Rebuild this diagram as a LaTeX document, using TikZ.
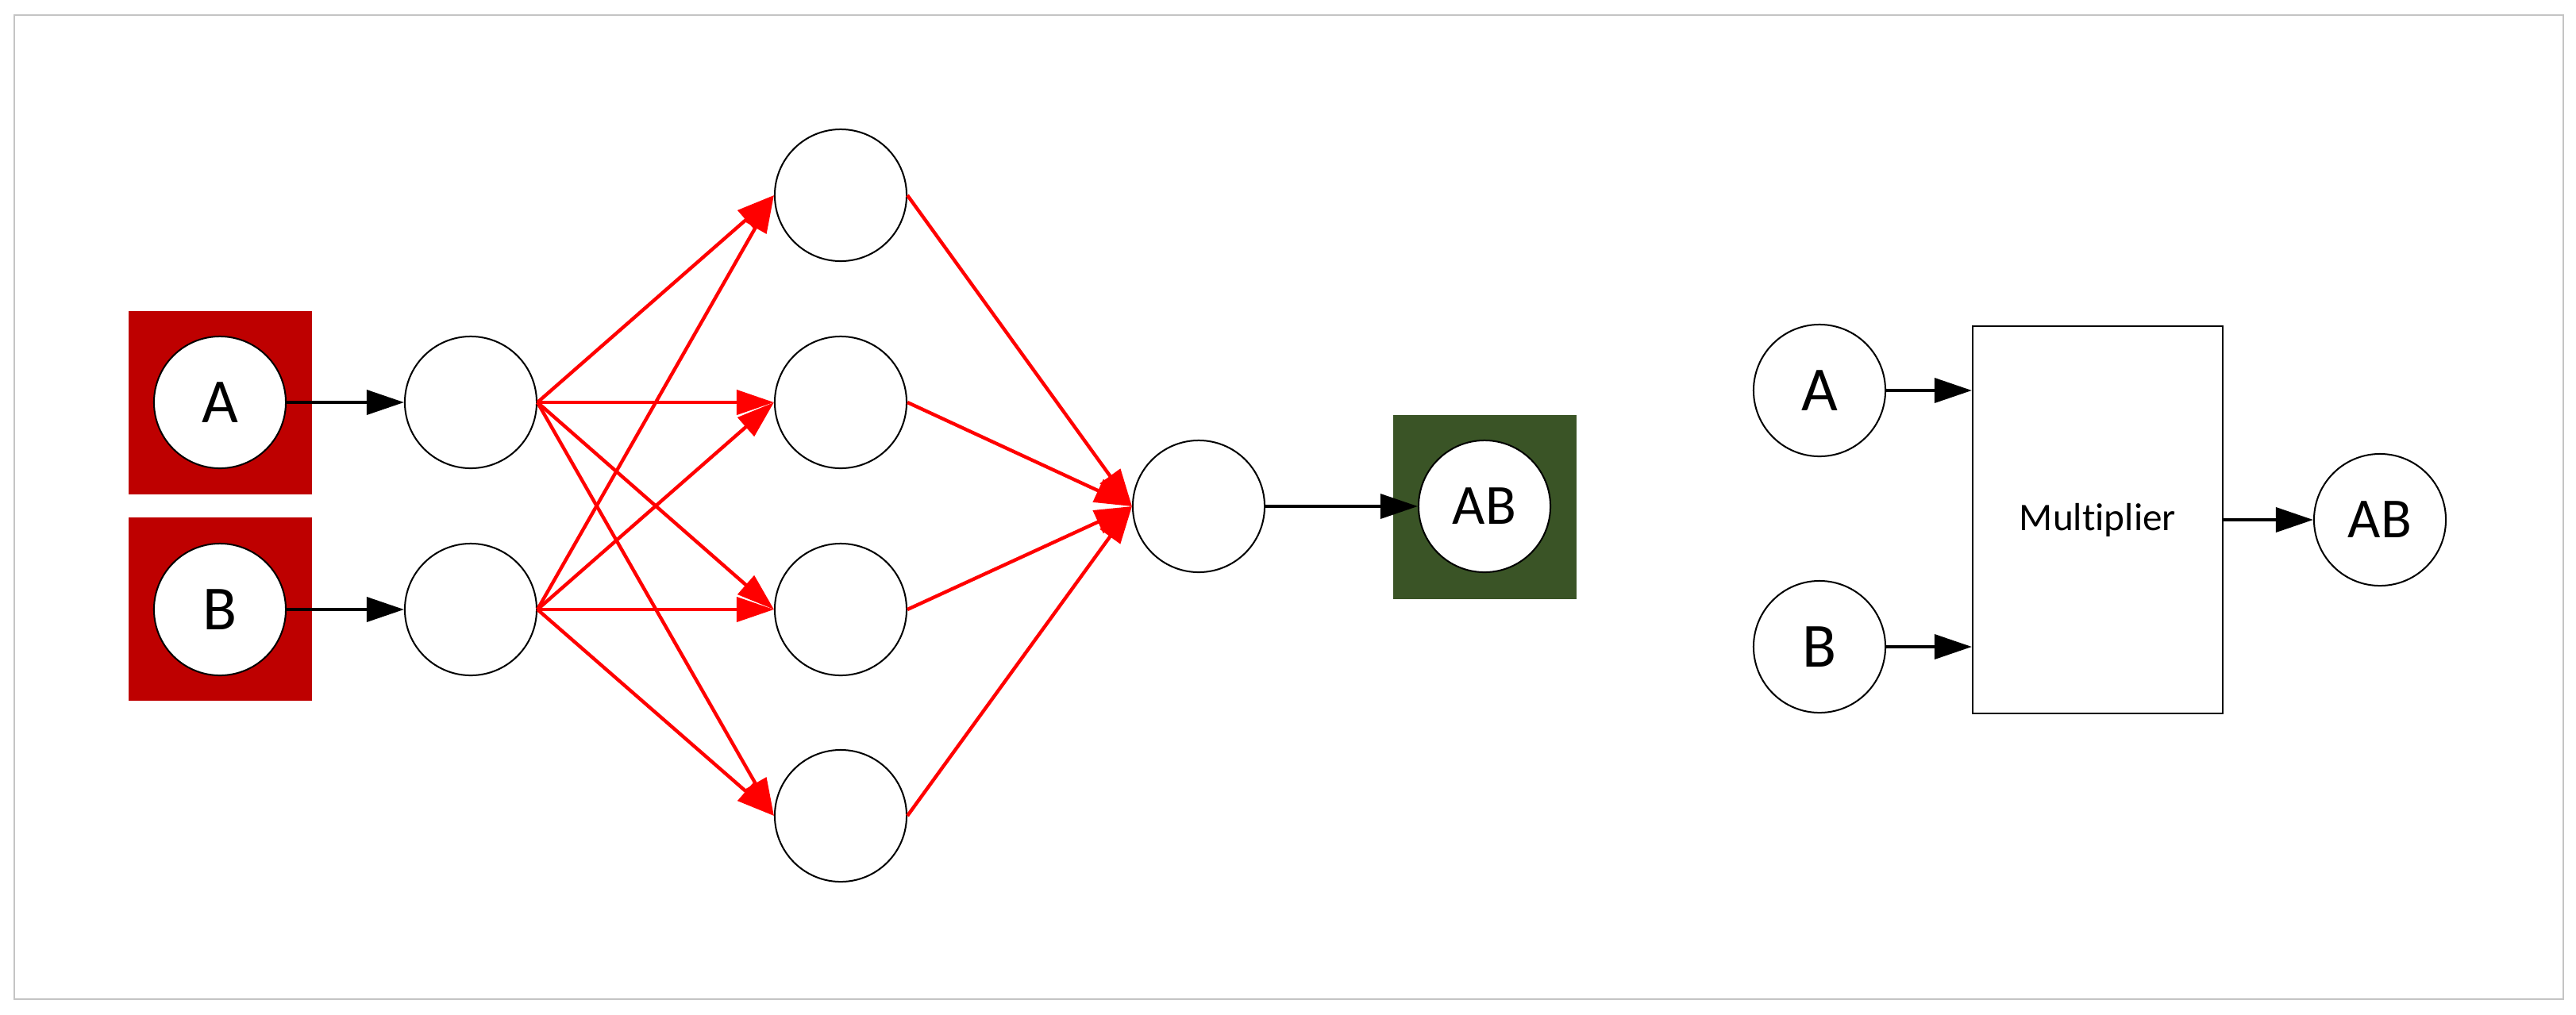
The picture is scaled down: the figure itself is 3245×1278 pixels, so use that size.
\documentclass[tikz,border=0pt]{standalone}
\usepackage{fontspec}
\setmainfont[Ligatures=NoCommon]{Carlito}
\usetikzlibrary{arrows.meta}
\definecolor{sqred}{RGB}{190,0,0}
\definecolor{sqgreen}{RGB}{58,84,38}
\definecolor{framegray}{RGB}{196,196,196}
\begin{document}
\begin{tikzpicture}[x=0.01cm,y=-0.01cm,
  neuron/.style={circle,draw=black,line width=0.57pt,fill=white,minimum size=1.66cm,inner sep=0pt,font=\fontsize{22.5}{27}\selectfont},
  outneuron/.style={neuron,font=\fontsize{20.3}{24}\selectfont},
  sqbox/.style={rectangle,draw=none,minimum size=2.31cm,inner sep=0pt},
  blk/.style={line width=1.14pt,-{Triangle[length=13.4pt,width=8.8pt]}},
  redarr/.style={draw=red,line width=1.25pt,-{Triangle[length=13.4pt,width=8.8pt]}},
  mulbox/.style={rectangle,draw=black,line width=0.57pt,minimum width=3.15cm,minimum height=4.88cm,inner sep=0pt,font=\fontsize{14}{17}\selectfont}]
\useasboundingbox (0,0) rectangle (3245,1278);
\node[draw=framegray,line width=0.6pt,rectangle,minimum width=32.09cm,minimum height=12.39cm,inner sep=0pt,anchor=north west] (frame) at (17,18) {};
% left network
\node[sqbox,fill=sqred] (sqA) at (277.5,507.5) {};
\node[sqbox,fill=sqred] (sqB) at (277.5,767.5) {};
\node[sqbox,fill=sqgreen] (sqAB) at (1870.5,639) {};
\node[neuron] (inA) at (277,507) {A};
\node[neuron] (inB) at (277,768) {B};
\node[neuron] (h1) at (593,507) {};
\node[neuron] (h2) at (593,768) {};
\node[neuron] (l1) at (1059,246) {};
\node[neuron] (l2) at (1059,507) {};
\node[neuron] (l3) at (1059,768) {};
\node[neuron] (l4) at (1059,1028) {};
\node[neuron] (out) at (1510,638) {};
\node[outneuron] (ab) at (1870,638) {AB};
\draw[blk] (inA.east) -- (h1.west);
\draw[blk] (inB.east) -- (h2.west);
\draw[blk] (out.east) -- (ab.west);
\foreach \s in {h1,h2}{
  \foreach \t in {l1,l2,l3,l4}{
    \draw[redarr] (\s.east) -- (\t.west);
  }
}
\foreach \s in {l1,l2,l3,l4}{
  \draw[redarr] (\s.east) -- (out.west);
}
% right diagram
\node[neuron] (a2) at (2292,492) {A};
\node[neuron] (b2) at (2292,815) {B};
\node[mulbox] (mul) at (2642.5,655) {Multiplier};
\node[outneuron] (ab2) at (2998,655) {AB};
\draw[blk] (a2.east) -- (a2.east -| mul.west);
\draw[blk] (b2.east) -- (b2.east -| mul.west);
\draw[blk] (mul.east) -- (ab2.west);
\end{tikzpicture}
\end{document}
